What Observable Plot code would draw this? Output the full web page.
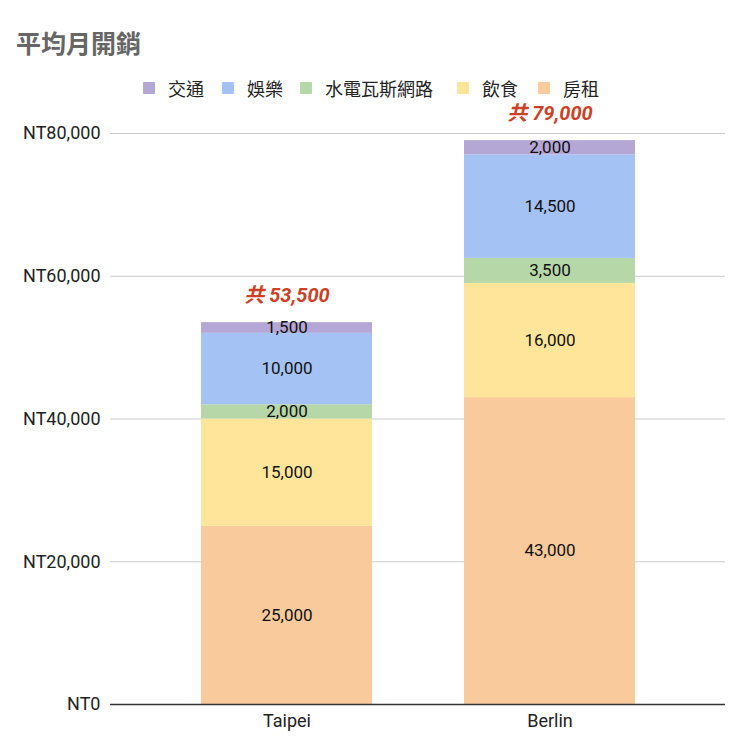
<!DOCTYPE html>
<html>
<head>
<meta charset="utf-8">
<script src="https://cdn.jsdelivr.net/npm/d3@7"></script>
<script src="https://cdn.jsdelivr.net/npm/@observablehq/plot@0.6"></script>
<style>
  body { margin: 0; background: #fff; font-family: Roboto, "Noto Sans CJK TC", sans-serif; }
  #title { box-sizing: border-box; height: 70px; padding: 28px 0 0 16px; font-size: 25px; line-height: 28px; font-weight: bold; color: #666; font-family: "Noto Sans CJK TC", sans-serif; }
  #legend { height: 36px; margin-bottom: -14px; position: relative; z-index: 1; font-size: 18px; color: #222; font-family: "Noto Sans CJK TC", sans-serif; }
  .item { position: absolute; top: 0; height: 36px; display: flex; align-items: center; white-space: nowrap; }
  .sw { width: 12px; height: 12px; margin-right: 13px; border-radius: 1px; }
</style>
</head>
<body>
<div id="title">平均月開銷</div>
<div id="legend"></div>
<div id="chart"></div>
<script>
const cities = ["Taipei", "Berlin"];
// stack order bottom -> top
const categories = ["房租", "飲食", "水電瓦斯網路", "娛樂", "交通"];
const taipeiValues = [25000, 15000, 2000, 10000, 1500];
const berlinValues = [43000, 16000, 3500, 14500, 2000];
const legendOrder = ["交通", "娛樂", "水電瓦斯網路", "飲食", "房租"];
const legendColors = ["#b4a7d6", "#a4c2f4", "#b6d7a8", "#ffe599", "#f9cb9c"];
const yTicks = [0, 20000, 40000, 60000, 80000];

const series = {Taipei: taipeiValues, Berlin: berlinValues};
const data = [];
for (const city of cities) {
  categories.forEach((cat, i) => data.push({city, category: cat, value: series[city][i]}));
}
const totals = cities.map(city => ({city, total: d3.sum(series[city])}));

const fmt = d3.format(",");

const legendLeft = [143, 222, 300, 457, 538];
const legend = document.getElementById("legend");
legendOrder.forEach((cat, i) => {
  const item = document.createElement("div");
  item.className = "item";
  item.style.left = legendLeft[i] + "px";
  const sw = document.createElement("div");
  sw.className = "sw";
  sw.style.background = legendColors[i];
  const lab = document.createElement("span");
  lab.textContent = cat;
  item.appendChild(sw);
  item.appendChild(lab);
  legend.appendChild(item);
});

const chart = Plot.plot({
  width: 740,
  height: 654,
  marginTop: 41,
  marginBottom: 42,
  marginLeft: 110,
  marginRight: 15,
  style: {fontSize: "18px", fontFamily: "Roboto, 'Noto Sans CJK TC', sans-serif", color: "#222", background: "transparent", overflow: "visible"},
  x: {domain: cities, paddingInner: 0.35, paddingOuter: 0.34, label: null},
  y: {domain: [0, 80000], label: null},
  color: {domain: legendOrder, range: legendColors},
  marks: [
    Plot.gridY(yTicks.slice(1), {stroke: "#cccccc", strokeOpacity: 1, strokeWidth: 1}),
    Plot.axisY({ticks: yTicks, tickFormat: d => "NT" + fmt(d), tickSize: 0, tickPadding: 10, fontSize: 18, label: null}),
    Plot.axisX({tickSize: 0, tickPadding: 10, fontSize: 18, label: null}),
    Plot.barY(data, {x: "city", y: "value", fill: "category"}),
    Plot.text(data, Plot.stackY({x: "city", y: "value", text: d => fmt(d.value), fill: "#111", fontSize: 17})),
    Plot.text(totals, {x: "city", y: "total", text: d => "共 " + fmt(d.total), dy: -27, fill: "#cc4125", fontSize: 20, fontWeight: "bold", fontStyle: "italic"}),
    Plot.ruleY([0], {stroke: "#333", strokeWidth: 1.5})
  ]
});
document.getElementById("chart").appendChild(chart);
</script>
</body>
</html>
